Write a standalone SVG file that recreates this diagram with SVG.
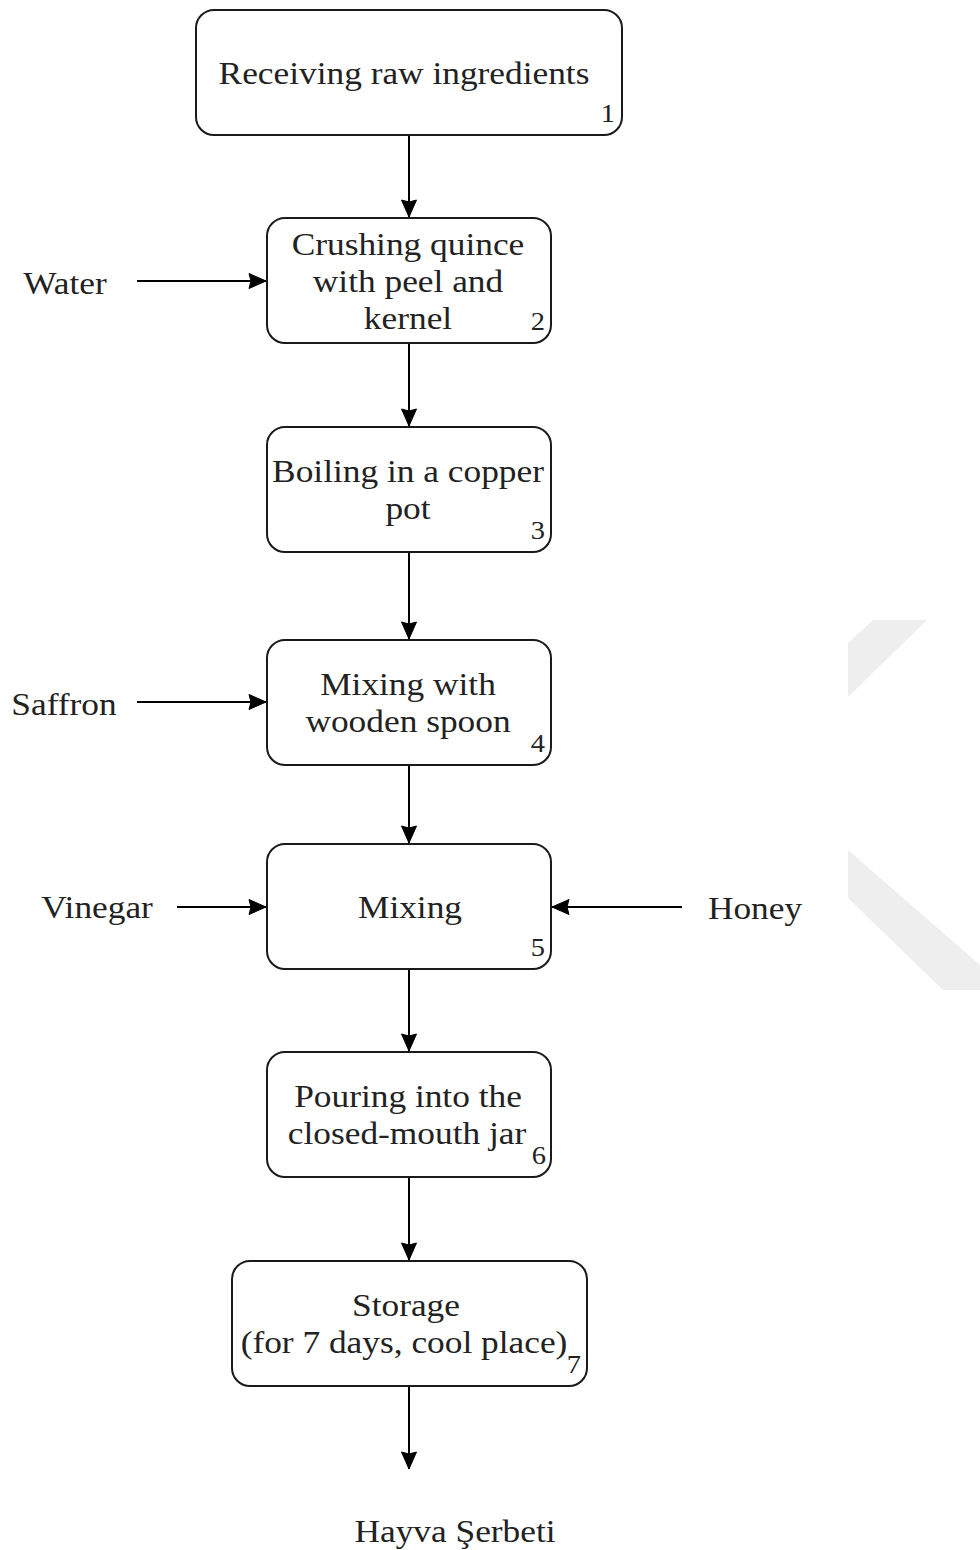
<svg xmlns="http://www.w3.org/2000/svg" width="980" height="1550" viewBox="0 0 980 1550">
<style>
.box{fill:#fff;stroke:#1a1a1a;stroke-width:2}
.t{font-family:"Liberation Serif","Times New Roman",serif;font-size:31px;fill:#222;text-anchor:middle}
.n{font-family:"Liberation Serif","Times New Roman",serif;font-size:25px;fill:#222;text-anchor:middle}
.c{stroke:#000;stroke-width:2;fill:none;marker-end:url(#ah)}
.wm{fill:#eeeeee}
</style>
<defs>
<marker id="ah" markerUnits="userSpaceOnUse" markerWidth="19" markerHeight="18" refX="17" refY="9" orient="auto" style="overflow:visible">
<path d="M0,1.5 L17,9 L0,16.5 L2,9 z" fill="#000" stroke="#000" stroke-width="1" stroke-linejoin="miter"/>
</marker>
</defs>
<rect width="980" height="1550" fill="#fff"/>
<g id="watermark">
<polygon class="wm" points="873,620 927,620 848,697 848,643"/>
<polygon class="wm" points="848,850 980,965 980,990 943,990 848,898"/>
</g>
<g id="connectors">
<line class="c" x1="409" y1="135" x2="409" y2="217"/>
<line class="c" x1="409" y1="343" x2="409" y2="426"/>
<line class="c" x1="409" y1="552" x2="409" y2="639"/>
<line class="c" x1="409" y1="765" x2="409" y2="843"/>
<line class="c" x1="409" y1="969" x2="409" y2="1051"/>
<line class="c" x1="409" y1="1177" x2="409" y2="1260"/>
<line class="c" x1="409" y1="1386" x2="409" y2="1469"/>
<line class="c" x1="137" y1="281" x2="266" y2="281"/>
<line class="c" x1="137" y1="702" x2="266" y2="702"/>
<line class="c" x1="177" y1="907" x2="266" y2="907"/>
<line class="c" x1="682" y1="907" x2="552" y2="907"/>
</g>
<g id="node1">
<rect class="box" x="196" y="10" width="426" height="125" rx="18"/>
<text class="t" transform="translate(404,84) scale(1.14,1)">Receiving raw ingredients</text>
<text class="n" transform="translate(608,122) scale(1.14,1)">1</text>
</g>
<g id="node2">
<rect class="box" x="267" y="218" width="284" height="125" rx="18"/>
<text class="t" transform="translate(408,255) scale(1.14,1)">Crushing quince</text>
<text class="t" transform="translate(408,292) scale(1.14,1)">with peel and</text>
<text class="t" transform="translate(408,329) scale(1.14,1)">kernel</text>
<text class="n" transform="translate(538,330) scale(1.14,1)">2</text>
</g>
<g id="node3">
<rect class="box" x="267" y="427" width="284" height="125" rx="18"/>
<text class="t" transform="translate(408,482) scale(1.14,1)">Boiling in a copper</text>
<text class="t" transform="translate(408,519) scale(1.14,1)">pot</text>
<text class="n" transform="translate(538,539) scale(1.14,1)">3</text>
</g>
<g id="node4">
<rect class="box" x="267" y="640" width="284" height="125" rx="18"/>
<text class="t" transform="translate(408,695) scale(1.14,1)">Mixing with</text>
<text class="t" transform="translate(408,732) scale(1.14,1)">wooden spoon</text>
<text class="n" transform="translate(538,752) scale(1.14,1)">4</text>
</g>
<g id="node5">
<rect class="box" x="267" y="844" width="284" height="125" rx="18"/>
<text class="t" transform="translate(410,918) scale(1.14,1)">Mixing</text>
<text class="n" transform="translate(538,956) scale(1.14,1)">5</text>
</g>
<g id="node6">
<rect class="box" x="267" y="1052" width="284" height="125" rx="18"/>
<text class="t" transform="translate(408,1107) scale(1.14,1)">Pouring into the</text>
<text class="t" transform="translate(407,1144) scale(1.14,1)">closed-mouth jar</text>
<text class="n" transform="translate(539,1164) scale(1.14,1)">6</text>
</g>
<g id="node7">
<rect class="box" x="232" y="1261" width="355" height="125" rx="18"/>
<text class="t" transform="translate(406,1316) scale(1.14,1)">Storage</text>
<text class="t" transform="translate(404,1353) scale(1.14,1)">(for 7 days, cool place)</text>
<text class="n" transform="translate(574,1373) scale(1.14,1)">7</text>
</g>
<g id="label-water"><text class="t" transform="translate(65,294) scale(1.14,1)">Water</text></g>
<g id="label-saffron"><text class="t" transform="translate(64,715) scale(1.14,1)">Saffron</text></g>
<g id="label-vinegar"><text class="t" transform="translate(97,918) scale(1.14,1)">Vinegar</text></g>
<g id="label-honey"><text class="t" transform="translate(755,919) scale(1.14,1)">Honey</text></g>
<g id="label-output"><text class="t" transform="translate(455,1542) scale(1.14,1)">Hayva Şerbeti</text></g>
</svg>
